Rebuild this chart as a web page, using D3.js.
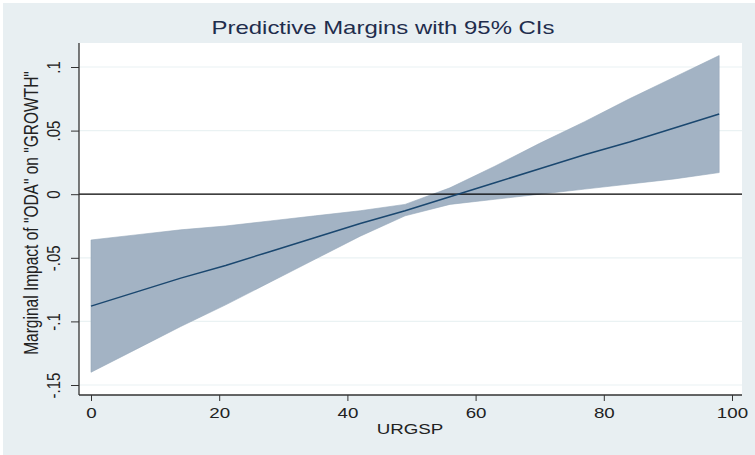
<!DOCTYPE html>
<html>
<head>
<meta charset="utf-8">
<script src="https://cdn.jsdelivr.net/npm/d3@7"></script>
<style>
  html, body { margin: 0; padding: 0; background: #ffffff; }
  text { font-family: "Liberation Sans", Arial, sans-serif; }
</style>
</head>
<body>
<div id="chart"></div>
<script>
// --- data ---
const urgsp = [0, 7, 14, 21, 28, 35, 42, 49, 56, 63, 70, 77, 84, 91, 98];
const margin = [-0.088, -0.077, -0.066, -0.056, -0.045, -0.034, -0.023, -0.013, -0.002, 0.009, 0.020, 0.031, 0.041, 0.052, 0.063];
const ciUpper = [-0.036, -0.032, -0.028, -0.025, -0.021, -0.017, -0.013, -0.008, 0.005, 0.022, 0.040, 0.057, 0.075, 0.092, 0.109];
const ciLower = [-0.140, -0.122, -0.104, -0.087, -0.069, -0.051, -0.033, -0.017, -0.008, -0.004, 0.000, 0.004, 0.008, 0.012, 0.017];
const xTicks = [0, 20, 40, 60, 80, 100];
const yTicks = [-0.15, -0.1, -0.05, 0, 0.05, 0.1];
const yTickLabels = ["-.15", "-.1", "-.05", "0", ".05", ".1"];

const W = 755, H = 455;
// plot region (white) bounds
const plot = { left: 79, right: 742, top: 43, bottom: 395 };
// the picture is stretched sideways, text included
const sx = 1.25;

const svg = d3.select("#chart").append("svg")
    .attr("width", W).attr("height", H);

// outer graph region
svg.append("rect")
    .attr("x", 3).attr("y", 3).attr("width", W - 3).attr("height", H - 3)
    .attr("fill", "#e8eff2");

svg.append("rect")
    .attr("x", plot.left).attr("y", plot.top)
    .attr("width", plot.right - plot.left).attr("height", plot.bottom - plot.top)
    .attr("fill", "#ffffff");

const x = d3.scaleLinear().domain([0, 100]).range([91, 732]);
const y = d3.scaleLinear().domain([-0.15, 0.1]).range([385, 67]);

// grid lines
svg.append("g").selectAll("line")
    .data(yTicks.filter(d => d !== 0))
    .join("line")
    .attr("x1", plot.left).attr("x2", plot.right)
    .attr("y1", d => y(d)).attr("y2", d => y(d))
    .attr("stroke", "#eaf2f3").attr("stroke-width", 1.2);

// CI band
const pts = urgsp.map((u, i) => ({ u, m: margin[i], hi: ciUpper[i], lo: ciLower[i] }));
svg.append("path")
    .datum(pts)
    .attr("d", d3.area().x(d => x(d.u)).y0(d => y(d.lo)).y1(d => y(d.hi)))
    .attr("fill", "#a3b3c4")
    .attr("stroke", "#95a7ba").attr("stroke-width", 0.6);

// zero reference line
svg.append("line")
    .attr("x1", plot.left).attr("x2", plot.right)
    .attr("y1", y(0)).attr("y2", y(0))
    .attr("stroke", "#000").attr("stroke-width", 1.2);

// margin line
svg.append("path")
    .datum(pts)
    .attr("d", d3.line().x(d => x(d.u)).y(d => y(d.m)))
    .attr("fill", "none")
    .attr("stroke", "#1a476f").attr("stroke-width", 1.5);

// x axis
const xAxis = svg.append("g")
    .attr("transform", `translate(0,${plot.bottom})`)
    .call(d3.axisBottom(x).tickValues(xTicks).tickSize(6));
xAxis.select(".domain").remove();
xAxis.selectAll("line").attr("stroke", "#333");
xAxis.selectAll("text")
    .attr("font-size", 15).attr("fill", "#222")
    .attr("font-family", "Liberation Sans, Arial, sans-serif")
    .attr("y", 0).attr("dy", 0)
    .attr("transform", `translate(0,22.5) scale(${sx},1)`);
svg.append("line")
    .attr("x1", plot.left).attr("x2", plot.right)
    .attr("y1", plot.bottom).attr("y2", plot.bottom)
    .attr("stroke", "#333").attr("stroke-width", 1.3);

// y axis
const yAxis = svg.append("g")
    .attr("transform", `translate(${plot.left},0)`)
    .call(d3.axisLeft(y).tickValues(yTicks).tickSize(8).tickFormat((d, i) => yTickLabels[i]));
yAxis.select(".domain").remove();
yAxis.selectAll("line").attr("stroke", "#333");
yAxis.selectAll("text")
    .attr("font-size", 15).attr("fill", "#222")
    .attr("font-family", "Liberation Sans, Arial, sans-serif")
    .attr("text-anchor", "middle")
    .attr("x", 0).attr("dy", 0)
    .attr("transform", `translate(-19.5,0) scale(${sx},1) rotate(-90)`);
svg.append("line")
    .attr("x1", plot.left).attr("x2", plot.left)
    .attr("y1", plot.top).attr("y2", plot.bottom)
    .attr("stroke", "#333").attr("stroke-width", 1.3);

// titles
svg.append("text")
    .attr("transform", `translate(383,34) scale(1.33,1)`)
    .attr("text-anchor", "middle")
    .attr("font-size", 18).attr("fill", "#1f2d4d")
    .text("Predictive Margins with 95% CIs");

svg.append("text")
    .attr("transform", `translate(410,434) scale(${sx},1)`)
    .attr("text-anchor", "middle")
    .attr("font-size", 15).attr("fill", "#222")
    .text("URGSP");

svg.append("text")
    .attr("transform", `translate(38,213) scale(${sx},1) rotate(-90)`)
    .attr("text-anchor", "middle")
    .attr("font-size", 15.5).attr("fill", "#222")
    .text('Marginal Impact of "ODA" on "GROWTH"');
</script>
</body>
</html>
